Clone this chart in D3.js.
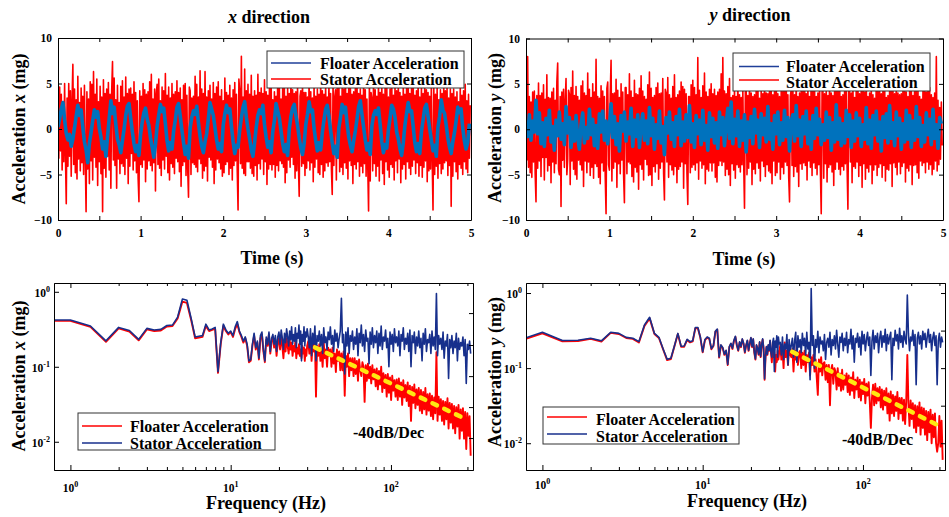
<!DOCTYPE html>
<html><head><meta charset="utf-8">
<script src="https://cdn.jsdelivr.net/npm/d3@7"></script>
<style>
body{margin:0;background:#fff;}
svg{display:block;font-family:"Liberation Serif","Times New Roman",serif;font-weight:bold;}
</style></head><body>
<svg id="c" width="949" height="517"></svg>
<script>
// ---------------- DATA ----------------
const statorStep = 0.01;  // s between stator samples
const floaterStep = 0.02; // s between floater samples
const timeTicks = [0,0.5,1,1.5,2,2.5,3,3.5,4,4.5,5];
const timeYTicks = [-10,-5,0,5,10];

// x direction time series (mg)
const statorTimeX = [2.5,-3.2,4.6,-2.4,3.8,-4.5,2.9,-3.6,5.0,-2.8,
-8.2,3.4,-4.1,5.0,-3.0,4.2,-5.2,3.1,7.1,-3.9,
4.4,-4.8,3.2,-5.5,5.8,-3.3,2.9,-4.6,4.5,-3.7,
3.6,-5.0,4.8,-2.9,-9.1,4.1,-4.4,3.3,-6.0,5.2,
-3.5,4.9,-5.6,6.3,-3.1,3.8,-4.2,5.5,-6.2,3.0,
-3.6,4.7,-4.9,3.5,-9.1,5.4,-4.3,3.9,-5.3,4.4,
-3.0,5.1,-4.5,3.8,-6.5,4.2,7.4,-3.4,5.6,-4.0,
3.2,-6.5,4.8,-3.3,2.9,-4.9,4.7,-3.8,5.3,-4.1,
3.5,-5.0,5.7,-3.2,3.9,-6.0,4.4,-4.1,4.5,-2.7,
3.8,-4.5,5.2,-3.5,4.0,-4.8,3.1,-5.4,-8.0,4.2,
-3.9,3.6,-4.2,5.0,-3.4,4.3,-5.8,3.8,-4.4,4.1,
-3.5,5.2,-4.0,6.0,-4.6,3.3,-3.7,4.4,-6.8,3.9,
4.9,-3.9,5.5,-4.3,3.1,-5.1,4.6,-3.4,4.2,-4.4,
6.1,-3.0,3.7,-4.8,4.6,-5.6,3.4,-3.8,5.0,-4.2,
3.8,-4.9,4.1,-3.2,5.3,-3.6,4.0,-4.7,4.5,-6.3,
3.2,-4.0,4.8,-3.6,5.0,-5.1,3.7,-4.3,-7.5,4.6,
4.2,-5.0,3.4,-3.7,3.6,-3.9,5.8,-4.2,4.9,-4.7,
3.5,-3.3,6.4,-3.8,4.4,-5.4,3.9,-4.6,6.3,-4.1,
3.5,-5.7,4.2,-3.1,4.8,-3.4,3.3,-4.2,5.1,-6.0,
3.9,-4.5,4.6,-3.3,5.2,-3.7,3.6,-4.4,4.3,-5.2,
3.1,-4.8,5.6,-3.9,4.0,-3.6,3.7,-5.0,4.8,-4.3,
3.4,-5.6,4.3,-4.0,5.1,-3.5,3.8,-4.6,-8.9,5.5,
4.1,-3.8,8.0,-4.3,3.5,-4.9,6.6,-5.1,4.2,-3.6,
4.9,-3.6,3.8,-4.3,5.9,-4.9,3.6,-5.2,4.2,-4.0,
3.7,-5.6,6.0,-3.8,4.0,-4.4,4.5,-3.3,3.9,-5.0,
5.4,-3.6,4.1,-6.1,3.7,-4.4,4.6,-3.9,5.8,-4.5,
3.2,-3.9,4.1,-5.3,3.6,-4.0,6.2,-4.6,4.8,-3.5,
3.3,-3.8,4.5,-4.2,5.0,-5.9,3.6,-4.8,4.6,-3.4,
3.9,-4.2,5.5,-3.1,4.3,-3.9,3.9,-5.4,4.1,-4.6,
4.8,-3.7,-7.4,3.6,4.2,-4.1,5.3,-3.8,4.0,-5.1,
4.0,-4.3,3.5,-3.5,6.0,-4.5,4.1,-3.7,3.4,-5.8,
5.1,-4.2,3.6,-3.3,4.4,-4.8,3.8,-5.0,5.7,-3.9,
4.2,-5.3,3.8,-4.6,4.9,-3.7,3.5,-4.1,5.3,-3.6,
3.9,-4.4,-7.2,5.5,-4.0,3.5,4.3,-5.6,4.9,-3.2,
5.9,-4.7,3.6,-4.2,4.7,-5.0,4.4,-3.7,6.1,-4.3,
3.9,-5.5,5.2,-3.5,4.6,-4.0,3.8,-6.0,4.1,-3.9,
4.6,-4.4,5.0,-3.6,3.9,-5.2,4.4,-4.1,3.7,-4.8,
5.8,-3.8,4.3,-5.2,3.3,-4.1,-9.0,5.5,-5.7,4.0,
3.4,-4.6,5.8,-3.8,4.3,-5.2,3.6,-4.1,5.5,-5.7,
4.0,-3.4,5.0,-4.9,3.8,-6.1,4.7,-3.6,5.4,-4.5,
3.5,-5.3,4.4,-3.9,5.9,-4.2,3.7,-5.6,4.9,-3.5,
4.2,-4.8,5.2,-3.3,4.0,-5.9,3.6,-4.4,4.8,-3.9,
3.8,-5.5,4.6,-3.6,5.1,-4.3,3.9,-5.0,4.5,-4.1,
5.3,-3.4,3.7,-4.9,4.2,-3.7,5.6,-5.2,3.5,-4.0,
4.7,-5.3,3.9,-4.2,5.0,-3.5,4.3,-5.8,4.0,-4.6,
3.6,-4.4,5.2,-3.3,-8.9,4.5,-5.0,3.8,-4.1,4.6,
-5.4,3.2,-3.8,4.3,-4.9,3.9,-4.4,5.0,-3.7,4.2,
-3.5,4.6,-5.1,3.4,-4.0,4.4,-8.5,3.9,-5.2,4.4,
-3.6,3.5,-4.7,4.1,-5.5,3.0,-3.9,4.6,-4.3,3.7,
-5.0,4.2,-3.6,4.9,-4.4,3.1,-4.8,3.8,-3.2,2.6];

const floaterTimeX = [0.2,1.1,2.2,2.9,1.0,-0.5,-1.2,-0.6,-1.9,-1.1,
0.1,1.4,2.6,1.5,2.1,0.2,-1.4,-2.3,-3.7,-1.6,
-0.4,0.9,2.1,1.3,1.9,0.1,-0.9,-2.2,-1.4,-3.0,
-0.8,1.2,3.1,1.7,2.4,0.5,-1.1,-1.7,-2.6,-1.3,
0.0,1.5,2.5,2.8,1.2,-0.3,-1.6,-2.5,-1.8,-2.9,
-0.6,0.8,1.8,2.3,1.1,0.4,-1.0,-2.0,-3.1,-1.7,
0.3,1.6,2.7,1.9,2.3,0.6,-1.3,-2.4,-1.5,-2.2,
-0.2,1.0,2.4,2.8,1.4,-0.1,-1.5,-2.8,-1.9,-3.2,
0.1,1.3,2.0,1.6,2.5,0.7,-0.8,-1.9,-2.6,-1.4,
-0.5,1.1,2.9,2.2,1.5,0.2,-1.2,-2.2,-1.6,-2.5,
0.4,1.7,2.6,1.8,2.2,0.3,-1.4,-2.7,-1.8,-2.0,
-0.1,1.2,2.4,3.0,1.3,0.0,-1.1,-2.3,-3.0,-1.5,
0.2,1.5,2.1,1.7,2.6,0.5,-0.9,-2.0,-1.4,-2.6,
-0.3,0.9,2.8,2.0,1.2,-0.2,-1.6,-2.5,-1.7,-2.9,
0.0,1.4,2.3,2.7,1.5,0.4,-1.0,-2.1,-2.8,-1.6,
0.5,1.6,3.0,1.9,2.1,0.1,-1.3,-2.4,-1.5,-2.3,
-0.4,1.0,2.2,2.6,1.4,-0.1,-1.5,-2.7,-1.9,-3.1,
0.1,1.3,2.7,1.8,2.4,0.6,-0.9,-1.8,-2.5,-1.3,
-0.2,1.1,2.5,3.1,1.6,0.2,-1.2,-2.3,-1.6,-2.8,
0.3,1.5,2.0,1.6,2.3,0.5,-1.4,-2.6,-1.7,-2.1,
-0.1,1.2,2.6,2.2,1.3,-0.3,-1.1,-2.2,-2.9,-1.5,
0.4,1.7,2.9,1.9,2.0,0.3,-1.5,-2.5,-1.6,-2.7,
-0.3,1.0,2.3,2.7,1.4,0.0,-1.2,-2.4,-1.8,-3.0,
0.2,1.4,3.2,2.1,1.7,0.4,-1.0,-2.0,-2.7,-1.4,
-0.4,0.9,2.4,1.8,2.2,0.1,-1.3,-2.2,-1.5,0.6];

// y direction time series (mg)
const statorTimeY = [1.5,-3.4,8.0,-4.2,3.6,-4.8,3.0,-5.3,4.1,-3.6,
4.2,-4.9,-8.0,3.7,-4.3,5.1,-3.5,3.7,-5.2,4.0,
-3.1,4.9,-5.6,3.3,-3.1,6.0,-4.6,3.5,-4.0,3.4,
-5.9,4.1,-3.6,4.5,-4.8,3.2,-3.8,5.2,7.3,-4.4,
-5.0,3.6,-8.5,4.1,-3.4,4.4,-4.2,3.1,5.6,-5.0,
-3.3,4.3,3.9,-6.1,4.6,-3.5,6.4,-4.4,3.7,-5.0,
4.7,-5.5,3.6,-3.4,3.2,-3.9,4.8,-4.5,5.3,-6.3,
4.0,-3.5,3.7,-4.8,6.2,-3.6,4.4,-5.1,3.5,-4.2,
5.0,-5.4,4.1,-3.8,7.7,-4.1,3.6,-5.3,3.4,-6.0,
4.8,-3.7,4.2,-4.6,3.6,-5.2,-9.3,4.5,5.2,-3.9,
-4.5,3.8,7.6,-5.7,3.9,-4.3,4.0,-3.6,5.5,-6.4,
4.3,-3.8,3.5,-4.9,5.0,-3.4,4.1,-5.0,-8.1,4.6,
4.6,-4.9,3.8,-3.6,6.1,-3.8,4.2,-5.2,3.5,-5.8,
5.4,-4.2,3.9,-4.7,3.8,-6.6,4.5,-3.9,5.9,-4.4,
4.2,-5.6,3.6,-3.3,3.3,-3.9,4.9,-5.1,6.3,-5.0,
4.5,-6.2,3.5,-4.1,3.7,-4.7,4.6,-3.8,5.1,-5.5,
3.9,-4.3,4.0,-3.6,5.6,-4.9,-7.8,4.4,4.0,-3.6,
5.7,-5.3,3.8,-3.9,3.4,-4.5,4.7,-5.0,6.0,-4.1,
3.5,-5.9,3.8,-4.4,4.2,-4.1,5.2,-3.6,4.7,-6.5,
4.4,-3.8,3.9,-4.9,-8.3,3.6,3.6,-4.8,4.9,-4.2,
5.4,-3.9,4.6,-4.5,3.8,-3.7,7.9,-5.5,4.3,-3.5,
3.5,-4.3,4.8,-3.9,6.2,-6.0,4.1,-4.4,3.6,-4.6,
4.4,-3.7,5.0,-4.6,3.9,-3.7,4.4,-5.3,3.7,-5.8,
4.1,-4.0,4.4,-3.5,6.1,-4.0,7.9,-3.6,4.2,-5.1,
3.9,-4.4,4.7,-5.0,5.6,-6.2,3.5,-3.8,3.7,-4.5,
4.9,-5.4,3.6,-3.9,6.0,-4.2,3.8,-4.7,3.5,-3.9,
4.4,-3.6,-8.7,4.1,4.6,-5.0,3.7,-4.3,5.3,-3.6,
4.0,-6.1,3.6,-4.4,3.8,-4.9,4.6,-3.7,5.8,-4.3,
3.4,-5.7,4.7,-3.5,3.9,-4.1,6.4,-5.2,4.0,-3.9,
3.9,-4.6,5.1,-4.8,4.2,-6.0,3.8,-3.5,4.5,-5.1,
6.6,-4.8,3.9,-3.6,3.6,-5.5,4.2,-4.2,4.4,-4.9,
4.4,-3.6,5.5,-4.0,3.8,-5.3,-8.0,3.7,4.3,-4.0,
4.7,-5.2,3.8,-4.1,6.0,-4.7,3.6,-6.3,4.0,-3.8,
4.3,-4.4,5.6,-3.7,6.5,-4.0,3.9,-5.6,4.8,-3.5,
3.6,-4.2,7.0,-5.1,4.2,-3.7,4.8,-4.3,3.6,-5.0,
4.0,-3.9,5.2,-4.6,-9.3,4.1,4.6,-5.4,3.9,-3.8,
4.5,-5.8,3.7,-4.2,5.6,-3.9,4.0,-4.7,3.7,-6.2,
4.4,-4.4,4.5,-3.6,5.1,-4.4,7.2,-5.0,3.6,-4.1,
3.8,-4.5,4.4,-3.8,6.1,-4.2,-8.8,4.4,4.2,-3.6,
4.0,-5.9,5.0,-4.1,3.5,-4.3,4.8,-3.6,5.3,-5.2,
3.9,-4.0,4.6,-6.4,6.3,-3.8,4.1,-5.5,5.7,-4.3,
3.6,-4.7,4.0,-3.9,4.9,-6.0,3.8,-4.5,3.4,-3.9,
5.8,-5.1,4.2,-4.2,4.4,-3.8,3.9,-5.3,4.7,-4.0,
6.0,-5.7,3.5,-4.4,3.7,-4.5,4.6,-3.8,5.1,-6.3,
4.3,-3.7,3.9,-4.2,5.5,-5.0,4.0,-3.6,3.8,-4.9,
3.9,-4.1,4.8,-3.7,6.2,-5.8,4.1,-4.3,3.6,-4.6,
4.5,-3.9,4.8,-6.1,3.7,-4.0,5.3,-3.9,4.2,-4.8,
4.5,-5.4,3.6,-3.5,3.3,-4.0,4.4,-3.7,5.0,-4.8,
4.1,-3.6,5.2,-4.4,4.6,-3.9,3.8,-5.0,3.5,-4.4,
4.0,-3.5,8.0,-4.6,3.2,-3.9,2.4,-3.3,3.0,-1.8];

const floaterTimeY = [0.4,-0.8,1.6,-1.2,0.9,-0.3,3.2,-0.5,1.8,-1.6,
0.7,-1.9,1.2,-0.6,2.1,-1.4,0.3,-2.3,1.0,-0.7,
1.9,-1.1,0.6,-1.7,2.5,-0.4,1.3,-2.0,0.8,-1.3,
1.5,-0.9,-2.2,0.5,1.8,-1.5,0.2,-1.0,2.2,-0.6,
1.1,-1.8,0.4,-2.1,1.7,-0.3,2.0,-1.2,0.9,-1.6,
0.3,2.8,-0.9,1.4,-1.7,0.6,-2.4,1.5,-0.2,1.9,
-1.3,0.8,-0.5,2.3,-1.9,1.0,-0.8,1.6,-2.0,0.4,
1.7,-1.2,0.9,-1.6,2.4,-0.7,1.2,-2.2,0.5,-1.0,
2.0,-1.5,0.3,-2.8,1.3,-0.4,1.9,-1.1,0.7,-1.9,
1.4,-0.6,2.2,-1.8,0.8,-1.3,1.6,-0.9,2.6,-1.4,
0.6,-2.0,1.5,-0.5,1.0,-1.7,2.1,-1.2,0.4,-2.3,
1.8,-0.8,1.2,-1.5,0.7,-2.1,1.9,-0.6,1.3,-1.8,
0.5,2.3,-1.0,3.0,-1.6,1.1,-0.7,2.0,-1.9,0.9,
-1.2,1.6,-2.5,0.8,-0.9,1.4,-1.6,2.2,-0.4,1.0,
-2.0,1.7,-0.6,1.2,-1.4,2.5,-1.1,0.6,-2.2,1.5,
-0.5,1.9,-1.7,0.7,-1.2,2.1,-0.8,1.3,-2.4,0.9,
1.6,-1.3,2.6,-0.7,1.0,-1.9,1.4,-0.5,2.0,-1.6,
0.8,-2.2,1.5,-1.0,2.3,-0.6,1.1,-1.7,0.5,-1.2,
1.9,-0.9,1.3,-2.3,0.7,-1.4,2.7,-1.1,1.2,-1.8,
0.6,-1.5,2.1,-0.8,1.6,-2.0,0.9,-1.3,1.8,-0.7,
1.2,-1.9,0.5,-1.1,2.4,-1.6,1.0,-2.1,1.5,-0.6,
2.0,-1.3,0.8,-2.4,1.4,-0.9,1.7,-1.5,2.6,-1.0,
0.7,-1.8,1.9,-0.7,1.2,-2.2,0.6,-1.4,2.1,-1.1,
1.5,-2.0,0.9,-1.2,2.5,-0.8,1.3,-1.9,0.4,-1.4,
1.8,-0.6,1.1,-1.7,2.2,-1.0,0.5,-2.1,1.3,0.6];

// Spectrum frequency grid: 1/3 Hz bins up to 30 Hz, then 1.6 % steps (Hz)
const freqLow = d3.range(2, 91).map(k => k / 3);
const freqHigh = d3.range(1, 149).map(j => 30 * Math.pow(1.016, j));
const freqMajor = [1, 10, 100];
const freqMinor = [2,3,4,5,6,7,8,9,20,30,40,50,60,70,80,90,200,300];
const ampMajor = [1, 0.1, 0.01];
const rightTicksX = [0.52, 0.195, 0.075, 0.029, 0.0112];
const rightTicksY = [1, 0.316, 0.1, 0.0316, 0.01];

// x direction spectra (mg)
const floaterSpecXLow = [.41,.41,.34,.215,.325,.295,.225,.315,.3,.305,
.345,.35,.44,.74,.71,.42,.24,.245,.25,.35,
.3,.31,.32,.083,.2,.35,.3,.27,.29,.25,
.32,.37,.29,.25,.21,.24,.19,.115,.12,.19,
.26,.17,.21,.125,.24,.27,.16,.115,.23,.19,
.27,.15,.22,.25,.18,.23,.14,.21,.24,.17,
.26,.19,.13,.22,.16,.24,.19,.15,.23,.17,
.21,.14,.19,.16,.22,.13,.18,.15,.2,.14,
.17,.13,.19,.15,.18,.12,.17,.14,.19];
const floaterSpecXHigh = [.22,.15,.25,.12,.2,.16,.24,.04,.19,.14,
.2,.12,.17,.1,.21,.13,.17,.1,.18,.14,
.17,.1,.18,.11,.15,.085,.17,.12,.16,.09,
.15,.09,.16,.041,.14,.1,.15,.075,.13,.09,
.13,.075,.13,.08,.12,.065,.125,.09,.075,.115,
.1,.034,.105,.065,.11,.07,.1,.06,.105,.068,
.092,.055,.095,.05,.088,.058,.1,.046,.082,.052,
.078,.04,.08,.045,.072,.036,.076,.048,.066,.04,
.068,.036,.07,.04,.062,.031,.066,.039,.057,.035,
.062,.03,.056,.019,.054,.033,.058,.028,.05,.031,
.052,.026,.049,.024,.046,.027,.052,.023,.043,.026,
.044,.022,.041,.02,.039,.024,.156,.019,.04,.023,
.037,.019,.035,.017,.034,.02,.038,.015,.033,.018,
.032,.015,.03,.013,.029,.016,.031,.011,.027,.014,
.028,.011,.025,.008,.024,.012,.022,.0065];
const statorSpecXLow = [.42,.42,.35,.222,.335,.305,.232,.325,.31,.315,
.355,.36,.46,.8,.77,.44,.25,.255,.26,.37,
.31,.32,.335,.086,.21,.37,.31,.28,.3,.26,
.34,.4,.3,.26,.22,.25,.2,.12,.125,.2,
.28,.18,.22,.13,.26,.29,.17,.12,.25,.2,
.29,.16,.24,.27,.2,.26,.16,.25,.29,.2,
.31,.24,.17,.28,.21,.32,.25,.19,.3,.23,
.34,.2,.27,.22,.33,.18,.28,.24,.36,.2,
.3,.12,.27,.22,.34,.19,.29,.25,.32];
const statorSpecXHigh = [.25,.18,.32,.14,.28,.2,.35,.12,.26,.22,
.3,.19,.27,.15,.33,.21,.25,.17,.29,.23,
.34,.2,.26,.16,.31,.22,.28,.18,.24,.3,
.82,.21,.27,.08,.29,.19,.33,.15,.26,.22,
.3,.17,.25,.2,.32,.14,.28,.21,.36,.19,
.27,.16,.31,.22,.24,.11,.29,.2,.33,.18,
.26,.21,.3,.15,.28,.19,.35,.17,.25,.22,
.31,.18,.24,.1,.29,.2,.27,.16,.32,.21,
.25,.19,.3,.14,.27,.22,.33,.17,.24,.2,
.28,.16,.31,.1,.26,.21,.29,.15,.25,.19,
.3,.18,.24,.12,.28,.2,.32,.16,.23,.21,
.27,.15,.3,.19,.25,.17,.95,.14,.26,.2,
.24,.17,.29,.13,.22,.19,.27,.07,.23,.18,
.26,.15,.22,.18,.28,.12,.24,.17,.21,.19,
.25,.14,.23,.06,.2,.17,.22,.15];

// y direction spectra (mg)
const floaterSpecYLow = [.22,.29,.228,.23,.245,.226,.295,.285,.252,.245,
.22,.365,.46,.285,.252,.177,.128,.132,.195,.285,
.192,.193,.237,.22,.227,.34,.34,.255,.162,.236,
.255,.245,.178,.197,.305,.325,.138,.2,.185,.15,
.17,.11,.19,.21,.18,.23,.26,.2,.17,.22,
.19,.24,.21,.16,.2,.23,.17,.21,.25,.19,
.24,.16,.13,.2,.18,.15,.22,.14,.2,.24,
.18,.07,.14,.19,.15,.2,.17,.23,.16,.12,
.18,.14,.16,.09,.15,.12,.17,.13,.16];
const floaterSpecYHigh = [.2,.13,.18,.1,.22,.14,.17,.11,.19,.15,
.14,.18,.09,.17,.13,.2,.11,.16,.17,.1,
.16,.11,.17,.09,.15,.12,.16,.08,.14,.11,
.15,.09,.13,.075,.044,.13,.09,.14,.08,.115,
.12,.07,.11,.065,.11,.032,.095,.11,.062,.1,
.09,.052,.1,.058,.085,.05,.095,.052,.08,.06,
.085,.048,.08,.044,.075,.05,.088,.04,.07,.052,
.075,.041,.07,.037,.065,.045,.072,.034,.062,.043,
.065,.036,.016,.04,.06,.032,.062,.034,.054,.037,
.056,.03,.052,.028,.05,.032,.054,.025,.046,.02,
.049,.025,.044,.023,.042,.027,.048,.021,.04,.025,
.04,.02,.038,.018,.036,.15,.034,.017,.037,.021,
.034,.016,.032,.014,.031,.017,.035,.013,.03,.016,
.029,.013,.027,.011,.026,.014,.028,.01,.024,.012,
.025,.01,.0077,.01,.023,.009,.02,.006];
const statorSpecYLow = [.225,.3,.233,.235,.25,.231,.3,.29,.257,.25,
.225,.375,.475,.29,.257,.18,.131,.135,.199,.29,
.196,.197,.242,.225,.232,.347,.347,.26,.165,.241,
.26,.25,.182,.2,.31,.332,.141,.204,.189,.153,
.173,.112,.194,.214,.184,.235,.265,.204,.173,.224,
.194,.245,.214,.163,.204,.235,.173,.214,.255,.194,
.245,.163,.133,.204,.184,.153,.224,.143,.204,.245,
.184,.072,.143,.194,.153,.204,.173,.235,.163,.14,
.22,.25,.09,.23,.19,.27,.14,.26,.21];
const statorSpecYHigh = [.22,.15,.26,.13,.21,.18,.28,.11,.24,.17,
.2,.25,.14,.23,.3,.12,.27,.19,.24,.16,
.29,.2,.25,.15,.3,.18,.22,.07,1.15,.2,
.27,.1,.24,.19,.31,.16,.26,.21,.23,.17,
.28,.13,.22,.25,.19,.3,.15,.24,.2,.27,
.18,.32,.21,.14,.26,.22,.29,.17,.25,.2,
.3,.16,.24,.21,.33,.18,.27,.12,.25,.22,
.29,.19,.26,.15,.31,.21,.28,.17,.24,.3,
.2,.26,.08,.23,.32,.18,.27,.22,.29,.16,
.25,.31,.19,.27,.22,.33,.17,.28,.21,.26,
.3,.07,.25,.2,.32,.23,.28,.18,.34,.22,
.27,.19,.31,.24,.21,.94,.29,.17,.26,.23,
.32,.2,.28,.06,.25,.3,.21,.27,.18,.31,
.24,.29,.19,.26,.33,.22,.28,.17,.25,.3,
.2,.27,.06,.23,.29,.19,.26,.22];

// -40 dB/Dec guide lines: [freq (Hz)], [amplitude (mg)]
const trendFreqX = [33.6, 287];
const trendAmpX = [0.181, 0.0205];
const trendFreqY = [36.2, 308];
const trendAmpY = [0.165, 0.0165];

// ---------------- DRAWING ----------------
const svg = d3.select("#c");
const RED = "#ff0000", LBLUE = "#0072bd", NAVY = "#172f8c", LEGBLUE = "#1f3f99";

function styleAxis(g, keepText) {
  g.attr("font-family", null).attr("font-size", null);
  g.selectAll(".domain").attr("stroke", "#000").attr("stroke-width", 1);
  g.selectAll(".tick line").attr("stroke", "#000");
  if (keepText) g.selectAll(".tick text").attr("font-size", 11.5).attr("fill", "#000");
  else g.selectAll(".tick text").remove();
  return g;
}

function clip(id, l, t, r, b) {
  svg.append("clipPath").attr("id", id).append("rect")
    .attr("x", l).attr("y", t).attr("width", r - l).attr("height", b - t);
  return `url(#${id})`;
}

function richText(parent, x, y, parts, size, anchor, transform) {
  const t = parent.append("text").attr("font-size", size).attr("fill", "#000")
    .attr("text-anchor", anchor || "middle");
  if (transform) t.attr("transform", transform); else t.attr("x", x).attr("y", y);
  parts.forEach(p => {
    const s = t.append("tspan").text(p.t);
    if (p.i) s.attr("font-style", "italic");
  });
  return t;
}

function legend(o) {
  svg.append("rect").attr("x", o.x).attr("y", o.y).attr("width", o.w).attr("height", o.h)
    .attr("fill", "#fff").attr("stroke", "#333").attr("stroke-width", 1);
  o.items.forEach(it => {
    svg.append("line").attr("x1", o.lx0).attr("x2", o.lx1).attr("y1", it.ly).attr("y2", it.ly)
      .attr("stroke", it.c).attr("stroke-width", 1.5);
    svg.append("text").attr("x", o.tx).attr("y", it.ty).attr("font-size", 16).attr("fill", "#000").text(it.t);
  });
}

function timePanel(o) {
  const x = d3.scaleLinear().domain([0, 5]).range([o.left, o.right]);
  const y = d3.scaleLinear().domain([-10, 10]).range([o.bottom, o.top]);
  const cp = clip("clip" + o.id, o.left, o.top, o.right, o.bottom);
  const lineS = d3.line().x((d, i) => x(i * statorStep)).y(d => y(d));
  const lineF = d3.line().x((d, i) => x(i * floaterStep)).y(d => y(d));
  const g = svg.append("g").attr("clip-path", cp);
  g.append("path").attr("d", lineS(o.stator)).attr("fill", "none").attr("stroke", RED)
    .attr("stroke-width", 1.6).attr("stroke-linejoin", "round");
  g.append("path").attr("d", lineF(o.floater)).attr("fill", "none").attr("stroke", LBLUE)
    .attr("stroke-width", 3.6).attr("stroke-linejoin", "round");

  styleAxis(svg.append("g").attr("transform", `translate(0,${o.bottom})`)
    .call(d3.axisBottom(x).tickValues(timeTicks).tickFormat(d => Number.isInteger(d) ? d : "")
      .tickSizeInner(-4).tickSizeOuter(0).tickPadding(9)), true)
    .selectAll(".tick text").filter(function() { return this.textContent === ""; }).remove();
  styleAxis(svg.append("g").attr("transform", `translate(0,${o.top})`)
    .call(d3.axisTop(x).tickValues(timeTicks).tickSizeInner(-4).tickSizeOuter(0)));
  styleAxis(svg.append("g").attr("transform", `translate(${o.left},0)`)
    .call(d3.axisLeft(y).tickValues(timeYTicks).tickSizeInner(-4).tickSizeOuter(0).tickPadding(6)), true);
  styleAxis(svg.append("g").attr("transform", `translate(${o.right},0)`)
    .call(d3.axisRight(y).tickValues(timeYTicks).tickSizeInner(-4).tickSizeOuter(0)));

  richText(svg, o.titleX, o.titleY, [{t: o.dir, i: true}, {t: " direction"}], 18);
  richText(svg, o.xlabX, o.xlabY, [{t: "Time (s)"}], 18);
  richText(svg, 0, 0, [{t: "Acceleration "}, {t: o.dir, i: true}, {t: " (mg)"}], 18, "middle",
    `translate(${o.ylabX},${o.ylabY}) rotate(-90)`);
  legend(o.legend);
}

function supLabel(parent, x, y, exp, anchor) {
  const t = parent.append("text").attr("x", x).attr("y", y).attr("font-size", 11.5)
    .attr("fill", "#000").attr("text-anchor", anchor);
  t.append("tspan").text("10");
  t.append("tspan").attr("font-size", 8).attr("dy", -5).text(exp);
}

function specPanel(o) {
  const x = d3.scaleLog().domain([0.79, 325]).range([o.left, o.right]);
  const y = d3.scaleLog().domain(o.yDomain).range([o.bottom, o.top]);
  const cp = clip("clip" + o.id, o.left, o.top, o.right, o.bottom);
  const pts = (low, high) => low.map((v, i) => [freqLow[i], v])
    .concat(high.map((v, j) => [freqHigh[j], v])).filter(p => p[0] !== undefined);
  const line = d3.line().x(d => x(d[0])).y(d => y(d[1]));
  const g = svg.append("g").attr("clip-path", cp);
  g.append("path").attr("d", line(pts(o.floaterLow, o.floaterHigh))).attr("fill", "none")
    .attr("stroke", RED).attr("stroke-width", 1.9).attr("stroke-linejoin", "round");
  g.append("path").attr("d", line(pts(o.statorLow, o.statorHigh))).attr("fill", "none")
    .attr("stroke", NAVY).attr("stroke-width", 1.6).attr("stroke-linejoin", "round");
  g.append("path").attr("d", line(d3.zip(o.trendF, o.trendA))).attr("fill", "none")
    .attr("stroke", "#ffe812").attr("stroke-width", 4.5).attr("stroke-dasharray", "5,8")
    .attr("stroke-linecap", "round");

  const ax = (gen, tr, vals, size) => styleAxis(svg.append("g").attr("transform", tr)
    .call(gen.tickValues(vals).tickSizeInner(size).tickSizeOuter(0)));
  ax(d3.axisBottom(x), `translate(0,${o.bottom})`, freqMajor, -5);
  ax(d3.axisBottom(x), `translate(0,${o.bottom})`, freqMinor, -3);
  ax(d3.axisTop(x), `translate(0,${o.top})`, freqMajor, -5);
  ax(d3.axisTop(x), `translate(0,${o.top})`, freqMinor, -3);
  ax(d3.axisLeft(y), `translate(${o.left},0)`, ampMajor, -5);
  ax(d3.axisRight(y), `translate(${o.right},0)`, o.rightTicks, -4);

  freqMajor.forEach(v => supLabel(svg, x(v), o.xTickY, String(Math.round(Math.log10(v))), "middle"));
  ampMajor.forEach(v => supLabel(svg, o.left - 4, y(v) + 5, String(Math.round(Math.log10(v))), "end"));

  richText(svg, o.xlabX, o.xlabY, [{t: "Frequency (Hz)"}], 18);
  richText(svg, 0, 0, [{t: "Acceleration "}, {t: o.dir, i: true}, {t: " (mg)"}], 18, "middle",
    `translate(${o.ylabX},${o.ylabY}) rotate(-90)`);
  legend(o.legend);
  svg.append("text").attr("x", o.noteX).attr("y", o.noteY).attr("font-size", 16).attr("fill", "#000").text("-40dB/Dec");
}

timePanel({id: "tl", left: 58, right: 471, top: 38, bottom: 220,
  stator: statorTimeX, floater: floaterTimeX, dir: "x",
  titleX: 269, titleY: 22.5, xlabX: 272, xlabY: 264, ylabX: 24.5, ylabY: 129,
  legend: {x: 267, y: 51, w: 197, h: 37, lx0: 271, lx1: 311, tx: 320,
    items: [{c: LEGBLUE, ly: 63, ty: 68.5, t: "Floater Acceleration"},
            {c: RED, ly: 79, ty: 85, t: "Stator Acceleration"}]}});

timePanel({id: "tr", left: 526, right: 943, top: 38.5, bottom: 220,
  stator: statorTimeY, floater: floaterTimeY, dir: "y",
  titleX: 750, titleY: 21, xlabX: 744, xlabY: 265, ylabX: 501, ylabY: 128,
  legend: {x: 733, y: 53, w: 197, h: 38, lx0: 739, lx1: 779, tx: 786,
    items: [{c: LEGBLUE, ly: 66.5, ty: 71.5, t: "Floater Acceleration"},
            {c: RED, ly: 80, ty: 87.5, t: "Stator Acceleration"}]}});

specPanel({id: "bl", left: 54, right: 473, top: 283, bottom: 470, yDomain: [0.0042, 1.31],
  floaterLow: floaterSpecXLow, floaterHigh: floaterSpecXHigh,
  statorLow: statorSpecXLow, statorHigh: statorSpecXHigh,
  trendF: trendFreqX, trendA: trendAmpX, rightTicks: rightTicksX, dir: "x",
  xTickY: 491.5, xlabX: 266, xlabY: 509, ylabX: 24.5, ylabY: 376,
  noteX: 353, noteY: 438,
  legend: {x: 78, y: 413, w: 197, h: 37, lx0: 82, lx1: 122, tx: 130,
    items: [{c: RED, ly: 426, ty: 432, t: "Floater Acceleration"},
            {c: NAVY, ly: 443, ty: 448.5, t: "Stator Acceleration"}]}});

specPanel({id: "br", left: 526, right: 945, top: 283, bottom: 470, yDomain: [0.0044, 1.36],
  floaterLow: floaterSpecYLow, floaterHigh: floaterSpecYHigh,
  statorLow: statorSpecYLow, statorHigh: statorSpecYHigh,
  trendF: trendFreqY, trendA: trendAmpY, rightTicks: rightTicksY, dir: "y",
  xTickY: 488.5, xlabX: 747, xlabY: 506.5, ylabX: 501, ylabY: 372,
  noteX: 842, noteY: 445,
  legend: {x: 543, y: 407, w: 196, h: 37, lx0: 547, lx1: 587, tx: 596,
    items: [{c: RED, ly: 417, ty: 425, t: "Floater Acceleration"},
            {c: NAVY, ly: 434, ty: 441.5, t: "Stator Acceleration"}]}});
</script>
</body></html>
